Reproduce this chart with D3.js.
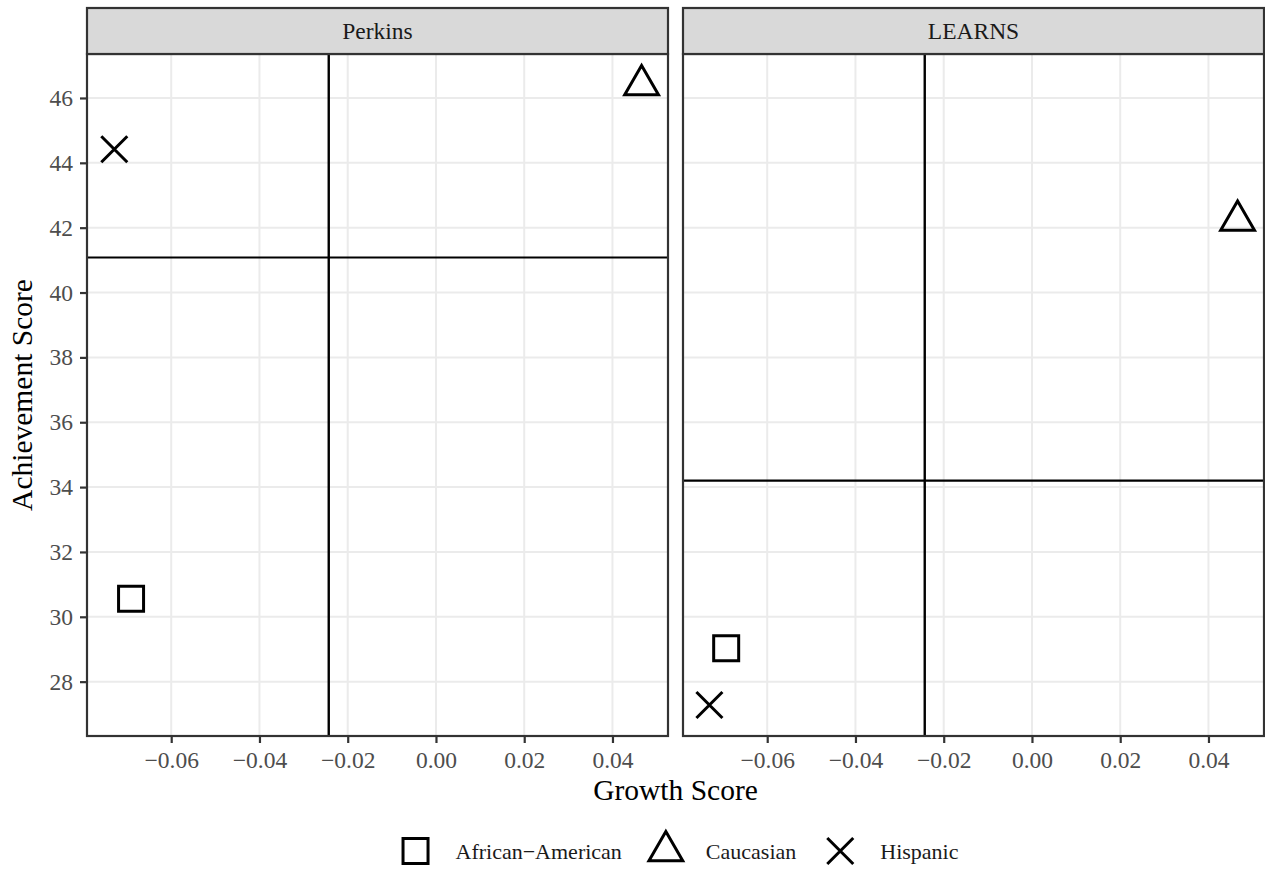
<!DOCTYPE html>
<html><head><meta charset="utf-8">
<script src="https://cdn.jsdelivr.net/npm/d3@7"></script>
<style>body{margin:0;background:#fff}svg{display:block}text{font-family:"Liberation Serif","Times New Roman",serif}</style>
</head><body>
<svg id="c" width="1265" height="874"></svg>
<script>
const facets = ["Perkins", "LEARNS"];
const groups = ["African\u2212American", "Caucasian", "Hispanic"];
const shapes = ["square", "triangle", "cross"];
const growth = {Perkins: [-0.0691, 0.0466, -0.0729], LEARNS: [-0.0693, 0.0466, -0.0731]};
const achievement = {Perkins: [30.56, 46.40, 44.42], LEARNS: [29.03, 42.22, 27.28]};
const hlines = {Perkins: 41.08, LEARNS: 34.20};
const vlines = {Perkins: -0.0243, LEARNS: -0.0243};
const xTicks = [-0.06, -0.04, -0.02, 0.00, 0.02, 0.04];
const yTicks = [28, 30, 32, 34, 36, 38, 40, 42, 44, 46];

const svg = d3.select("#c");
const panelTop = 54, panelBottom = 736;
const panelsX = [[87, 668], [683, 1264]];
const stripTop = 8;

// ggplot-like expanded domains
const allX = facets.flatMap(f => growth[f].concat([vlines[f]]));
const allY = facets.flatMap(f => achievement[f].concat([hlines[f]]));
function expand(ext){const d=(ext[1]-ext[0])*0.05;return [ext[0]-d, ext[1]+d];}
const xDom = expand(d3.extent(allX));
const yDom = expand(d3.extent(allY));
const y = d3.scaleLinear().domain(yDom).range([panelBottom, panelTop]);
const fmt = d3.format(".2f");

function shapePath(kind){
  if(kind==="square") return "M-12.5,-12.5H12.5V12.5H-12.5Z";
  if(kind==="triangle"){const r=19.5,h=r*Math.sin(Math.PI/3);return `M0,${-r}L${h},${r/2}L${-h},${r/2}Z`;}
  return "M-13,-13L13,13M-13,13L13,-13";
}

facets.forEach((f, i) => {
  const [x0, x1] = panelsX[i];
  const x = d3.scaleLinear().domain(xDom).range([x0, x1]);
  const g = svg.append("g");
  g.append("rect").attr("x", x0).attr("y", panelTop).attr("width", x1-x0).attr("height", panelBottom-panelTop).attr("fill", "#fff");
  g.selectAll(".gx").data(xTicks).join("line").attr("x1", d=>x(d)).attr("x2", d=>x(d)).attr("y1", panelTop).attr("y2", panelBottom).attr("stroke", "#EBEBEB").attr("stroke-width", 2);
  g.selectAll(".gy").data(yTicks).join("line").attr("y1", d=>y(d)).attr("y2", d=>y(d)).attr("x1", x0).attr("x2", x1).attr("stroke", "#EBEBEB").attr("stroke-width", 2);
  g.append("line").attr("x1", x0).attr("x2", x1).attr("y1", y(hlines[f])).attr("y2", y(hlines[f])).attr("stroke", "#000").attr("stroke-width", 2.2);
  g.append("line").attr("x1", x(vlines[f])).attr("x2", x(vlines[f])).attr("y1", panelTop).attr("y2", panelBottom).attr("stroke", "#000").attr("stroke-width", 2.4);
  groups.forEach((gr, j) => {
    g.append("path").attr("d", shapePath(shapes[j]))
      .attr("transform", `translate(${x(growth[f][j])},${y(achievement[f][j])})`)
      .attr("fill", "none").attr("stroke", "#000").attr("stroke-width", 3);
  });
  g.append("rect").attr("x", x0).attr("y", panelTop).attr("width", x1-x0).attr("height", panelBottom-panelTop).attr("fill", "none").attr("stroke", "#333333").attr("stroke-width", 2.2);
  g.append("rect").attr("x", x0).attr("y", stripTop).attr("width", x1-x0).attr("height", panelTop-stripTop).attr("fill", "#D9D9D9").attr("stroke", "#333333").attr("stroke-width", 2.2);
  g.append("text").attr("x", (x0+x1)/2).attr("y", 39).attr("text-anchor", "middle").attr("font-size", 23.5).attr("fill", "#1a1a1a").text(f);
  const xa = svg.append("g").attr("transform", `translate(0,${panelBottom})`)
    .call(d3.axisBottom(x).tickValues(xTicks).tickFormat(fmt).tickSize(7).tickPadding(8));
  xa.select(".domain").remove();
  xa.selectAll("line").attr("stroke", "#333333").attr("stroke-width", 2.2);
  xa.selectAll("text").attr("font-size", 23.5).attr("fill", "#4d4d4d").attr("font-family", "Liberation Serif");
  if(i===0){
    const ya = svg.append("g").attr("transform", `translate(${x0},0)`)
      .call(d3.axisLeft(y).tickValues(yTicks).tickFormat(d3.format("d")).tickSize(7).tickPadding(7));
    ya.select(".domain").remove();
    ya.selectAll("line").attr("stroke", "#333333").attr("stroke-width", 2.2);
    ya.selectAll("text").attr("font-size", 23.5).attr("fill", "#4d4d4d").attr("font-family", "Liberation Serif");
  }
});

svg.append("text").attr("x", (panelsX[0][0]+panelsX[1][1])/2).attr("y", 800).attr("text-anchor", "middle").attr("font-size", 29.5).attr("fill", "#000").text("Growth Score");
svg.append("text").attr("transform", `translate(32,${(panelTop+panelBottom)/2}) rotate(-90)`).attr("text-anchor", "middle").attr("font-size", 29.5).attr("fill", "#000").text("Achievement Score");

// legend
const lg = svg.append("g");
const items = [];
groups.forEach((gr, j) => {
  const it = lg.append("g");
  it.append("path").attr("d", shapePath(shapes[j])).attr("fill","none").attr("stroke","#000").attr("stroke-width",3);
  const t = it.append("text").attr("x", 40).attr("y", 8).attr("font-size", 22).attr("fill", "#1a1a1a").text(gr);
  items.push({it, w: t.node().getComputedTextLength()});
});
let pos = 0; const offs = [];
items.forEach(d => { offs.push(pos); pos += 40 + d.w + 44; });
const totalW = pos - 44 + 14;
const startX = 680 - totalW/2 + 14;
items.forEach((d, j) => d.it.attr("transform", `translate(${startX+offs[j]},851)`));
</script>
</body></html>
